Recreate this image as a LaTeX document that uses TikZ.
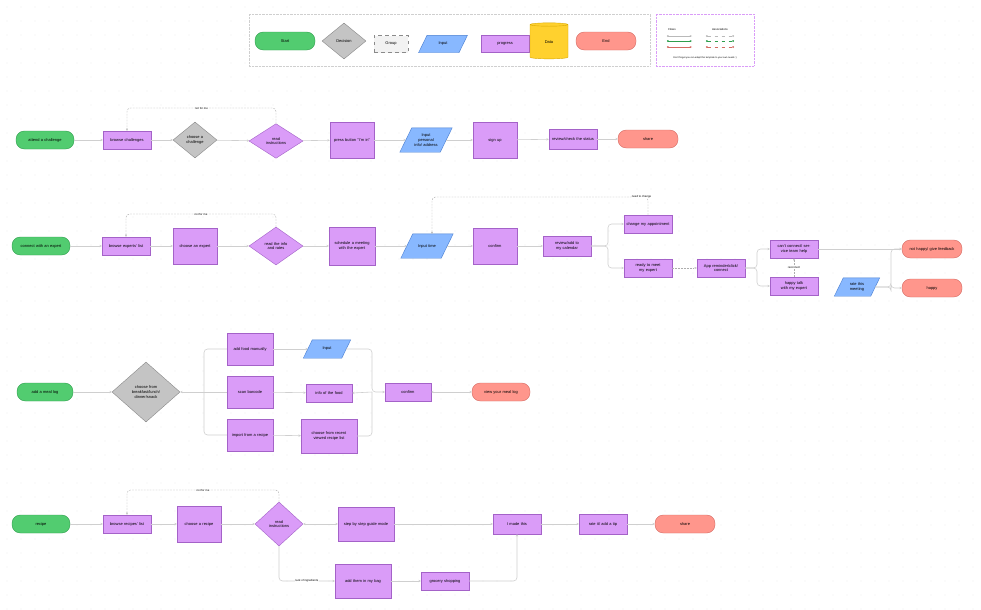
\documentclass[tikz,border=0pt]{standalone}
\usepackage{fontspec}
\setmainfont{Liberation Sans}
\usetikzlibrary{shapes.geometric,arrows.meta}
\definecolor{gf}{HTML}{52CC70}\definecolor{gd}{HTML}{2E9E4C}
\definecolor{pf}{HTML}{DA9CF8}\definecolor{pd}{HTML}{A462C8}
\definecolor{bf}{HTML}{88B8FF}\definecolor{bd}{HTML}{4A7FD0}
\definecolor{rf}{HTML}{FF968C}\definecolor{rd}{HTML}{D46A62}
\definecolor{yf}{HTML}{FFD12E}\definecolor{yd}{HTML}{D9A800}
\definecolor{kf}{HTML}{C4C4C4}\definecolor{kd}{HTML}{8A8A8A}
\definecolor{ln}{HTML}{CFCFCF}\definecolor{dotc}{HTML}{CFCFCF}
\tikzset{
 base/.style={inner sep=0.5pt,align=center,font=\fontsize{3.4}{4}\selectfont,line width=0.35pt},
 startb/.style={base,rounded corners=2.5mm,fill=gf,draw=gd},
 endb/.style={base,rounded corners=2.5mm,fill=rf,draw=rd},
 proc/.style={base,fill=pf,draw=pd},
 pdec/.style={base,diamond,fill=pf,draw=pd,inner sep=0pt},
 gdec/.style={base,diamond,fill=kf,draw=kd,inner sep=0pt},
 ghost/.style={base},
 ar/.style={draw=ln,line width=0.5pt,-{Stealth[length=2pt,width=2pt]},rounded corners=3pt},
 pl/.style={draw=ln,line width=0.5pt,rounded corners=3pt},
 dsh/.style={draw=kd!70,line width=0.35pt,dashed,dash pattern=on 1.5pt off 1pt,rounded corners=3pt},
 lab/.style={font=\fontsize{2.4}{3}\selectfont,fill=white,inner sep=0.3pt}
}
\newcommand{\B}[7]{\node[#2,minimum width=#5*0.03cm,minimum height=#6*0.03cm,text width=#5*0.03cm-4pt] (#1) at (#3,#4) {#7};}
\newcommand{\D}[7]{\node[#2,minimum width=#5*0.03cm,minimum height=#6*0.03cm,text width=#5*0.015cm] (#1) at (#3,#4) {#7};}
\newcommand{\pgram}[6]{\node[ghost,minimum width=#4*0.03cm,minimum height=#5*0.03cm,text width=#4*0.03cm-8pt] (#1) at (#2,#3) {};
 \fill[bf,draw=bd,line width=0.35pt] ([xshift=-0.25*#5*0.03cm]#1.south west)--([xshift=-0.25*#5*0.03cm]#1.south east)--([xshift=0.25*#5*0.03cm]#1.north east)--([xshift=0.25*#5*0.03cm]#1.north west)--cycle;
 \node[base,text width=#4*0.03cm-8pt] at (#1) {#6};}
\begin{document}
\begin{tikzpicture}[x=0.03cm,y=-0.03cm]
\useasboundingbox (0,0) rectangle (981,609);
\fill[white] (0,0) rectangle (981,609);
\foreach \x in {7,21,...,981} \foreach \y in {7,21,...,609} \fill[dotc] (\x,\y) circle (0.25pt);
% legend
\draw[dotc,fill=white,dash pattern=on 0.6pt off 0.6pt] (249,14) rectangle (650,66);
\draw[pf,fill=white,dash pattern=on 0.6pt off 0.6pt] (656,14) rectangle (754,66);
\B{lgs}{startb}{285}{41}{60}{18}{Start}
\D{lgd}{gdec}{344}{41}{44}{36}{Decision}
\node[base,draw=kd,dashed,fill=white!95!black,minimum width=34*0.03cm,minimum height=17*0.03cm] (lgg) at (391,44) {Group};
\pgram{lgi}{443}{44}{40}{17}{Input}
\B{lgp}{proc}{505}{44}{48}{17}{progress}
\node[base,cylinder,shape border rotate=90,aspect=0.35,fill=yf,draw=yd,minimum width=38*0.03cm,minimum height=36*0.03cm] (lgy) at (549,42) {Data};
\B{lge}{endb}{606}{41}{60}{18}{End}
\node[lab,fill=none] (lf) at (672,29) {Flows};
\node[lab,fill=none] (la) at (720,29) {Associations};
\draw[kd!60,line width=0.5pt,{Circle[length=1.5pt]}-{Stealth[length=2pt]}] (667,36)--(692,36);
\draw[gd,line width=0.5pt,{Circle[length=1.5pt]}-{Stealth[length=2pt]}] (667,41)--(692,41);
\draw[rd,line width=0.5pt,{Circle[length=1.5pt]}-{Stealth[length=2pt]}] (667,47)--(692,47);
\draw[kd!60,line width=0.5pt,dashed,{Circle[length=1.5pt]}-{Circle[length=1.5pt]}] (706,36)--(734,36);
\draw[gd,line width=0.5pt,dashed,{Circle[length=1.5pt]}-{Circle[length=1.5pt]}] (706,41)--(734,41);
\draw[rd,line width=0.5pt,dashed,{Circle[length=1.5pt]}-{Circle[length=1.5pt]}] (706,47)--(734,47);
\node[lab,fill=none,font=\fontsize{2}{2.5}\selectfont] (lt) at (705,58) {Don't forget you can adapt this template to your own needs :)};
% row 1
\B{a1}{startb}{45}{140}{58}{18}{attend a challenge}
\B{b1}{proc}{127}{140}{48}{18}{browse challenges}
\D{c1}{gdec}{195}{140}{44}{36}{choose a\\challenge}
\D{d1}{pdec}{276}{141}{54}{34}{read\\instructions}
\B{e1}{proc}{352}{140}{44}{36}{press button "I'm in"}
\pgram{f1}{426}{140}{40}{24}{Input\\personal\\info/ address}
\B{g1}{proc}{495}{140}{44}{36}{sign up}
\B{h1}{proc}{573}{139}{48}{20}{review/check the status}
\B{i1}{endb}{648}{139}{60}{18}{share}
\draw[ar] (a1)--(b1); \draw[ar] (b1)--(c1); \draw[ar] (c1)--(d1); \draw[ar] (d1)--(e1);
\draw[ar] (e1)--(f1); \draw[ar] (f1)--(g1); \draw[ar] (g1)--(h1); \draw[ar] (h1)--(i1);
\draw[dsh,-{Stealth[length=2pt]}] (d1.north)--(276,108)--node[lab]{not for me}(127,108)--(b1.north);
% row 2
\B{a2}{startb}{41}{246}{58}{18}{connect with an expert}
\B{b2}{proc}{126}{246}{48}{18}{browse experts' list}
\B{c2}{proc}{195}{246}{44}{36}{choose an expert}
\D{d2}{pdec}{276}{246}{54}{38}{read the info\\and rates}
\B{e2}{proc}{352}{246}{46}{38}{schedule a meeting with the expert}
\pgram{f2}{427}{246}{40}{24}{Input time}
\B{g2}{proc}{495}{246}{44}{36}{confirm}
\B{h2}{proc}{567}{246}{48}{20}{review/add to my calendar}
\B{ch2}{proc}{648}{224}{48}{18}{change my appointment}
\B{rd2}{proc}{648}{268}{48}{18}{ready to meet my expert}
\B{ap2}{proc}{721}{268}{48}{18}{App reminder/click/ connect}
\B{cc2}{proc}{794}{249}{48}{18}{can't connect/ service team help}
\B{ht2}{proc}{794}{286}{48}{18}{happy talk with my expert}
\pgram{rt2}{857}{287}{36}{18}{rate this\\meeting}
\B{nh2}{endb}{932}{249}{60}{18}{not happy/ give feedback}
\B{hp2}{endb}{932}{288}{60}{18}{happy}
\draw[ar] (a2)--(b2); \draw[ar] (b2)--(c2); \draw[ar] (c2)--(d2); \draw[ar] (d2)--(e2);
\draw[ar] (e2)--(f2); \draw[ar] (f2)--(g2); \draw[ar] (g2)--(h2);
\draw[ar] (h2.east)--(608,246)--(608,224)--(ch2.west);
\draw[ar] (h2.east)--(608,246)--(608,268)--(rd2.west);
\draw[dsh,-{Stealth[length=2pt]}] (rd2)--(ap2);
\draw[ar] (ap2.east)--(757,268)--(757,249)--(cc2.west);
\draw[ar] (ap2.east)--(757,268)--(757,286)--(ht2.west);
\draw[dsh,-{Stealth[length=2pt]}] (ht2.north)--node[lab]{reconnect}(cc2.south);
\draw[ar] (cc2)--(nh2);
\draw[ar] (rt2.east)--(891,287)--(891,288)--(hp2.west);
\draw[ar] (rt2.east)--(891,287)--(891,249)--(nh2.west);
\draw[dsh,-{Stealth[length=2pt]}] (d2.north)--(276,214)--node[lab]{not for me}(126,214)--(b2.north);
\draw[dsh,-{Stealth[length=2pt]}] (ch2.north)--(648,197)--node[lab,pos=0.03]{need to change}(432,197)--(432,234);
% row 3
\B{a3}{startb}{45}{392}{56}{18}{add a meal log}
\D{b3}{gdec}{146}{392}{68}{60}{choose from\\breakfast/lunch/\\dinner/snack}
\B{c3}{proc}{250}{349}{46}{32}{add food manually}
\B{d3}{proc}{250}{392}{46}{32}{scan barcode}
\B{e3}{proc}{250}{435}{46}{32}{import from a recipe}
\pgram{f3}{327}{349}{38}{18}{Input}
\B{g3}{proc}{329}{393}{46}{18}{info of the food}
\B{h3}{proc}{329}{436}{56}{34}{choose from recent viewed recipe list}
\B{i3}{proc}{408}{392}{46}{18}{confirm}
\B{j3}{endb}{501}{392}{58}{18}{view your meal log}
\draw[ar] (a3)--(b3);
\draw[ar] (204,392)--(b3.east);
\draw[pl] (204,392)--(204,349)--(c3.west); \draw[pl] (204,392)--(d3.west); \draw[pl] (204,392)--(204,435)--(e3.west);
\draw[ar] (c3)--(f3); \draw[ar] (d3)--(g3); \draw[ar] (e3)--(h3);
\draw[ar] (f3.east)--(372,349)--(372,392)--(i3.west);
\draw[ar] (372,392)--(g3.east);
\draw[pl] (h3.east)--(372,436)--(372,392);
\draw[ar,{Stealth[length=2pt,width=2pt]}-{Stealth[length=2pt,width=2pt]}] (i3)--(j3);
% row 4
\B{a4}{startb}{41}{524}{58}{18}{recipe}
\B{b4}{proc}{127}{524}{48}{18}{browse recipes' list}
\B{c4}{proc}{199}{524}{44}{36}{choose a recipe}
\D{d4}{pdec}{279}{524}{48}{44}{read\\instructions}
\B{e4}{proc}{366}{524}{56}{34}{step by step guide mode}
\B{f4}{proc}{517}{524}{48}{20}{I made this}
\B{g4}{proc}{603}{524}{48}{20}{rate it/ add a tip}
\B{h4}{endb}{685}{524}{60}{18}{share}
\B{i4}{proc}{363}{581}{56}{34}{add them in my bag}
\B{j4}{proc}{445}{581}{48}{18}{grocery shopping}
\draw[ar] (a4)--(b4); \draw[ar] (b4)--(c4); \draw[ar] (c4)--(d4);
\draw[ar,{Stealth[length=2pt,width=2pt]}-{Stealth[length=2pt,width=2pt]}] (d4)--(e4);
\draw[ar] (e4)--(f4); \draw[ar] (f4)--(g4); \draw[ar] (g4)--(h4);
\draw[ar] (d4.south)--(279,581)--node[lab]{lack of ingredients}(i4.west);
\draw[ar] (i4)--(j4);
\draw[ar] (j4.east)--(517,581)--(f4.south);
\draw[dsh,-{Stealth[length=2pt]}] (d4.north)--(279,490)--node[lab]{not for me}(127,490)--(b4.north);
\end{tikzpicture}
\end{document}
